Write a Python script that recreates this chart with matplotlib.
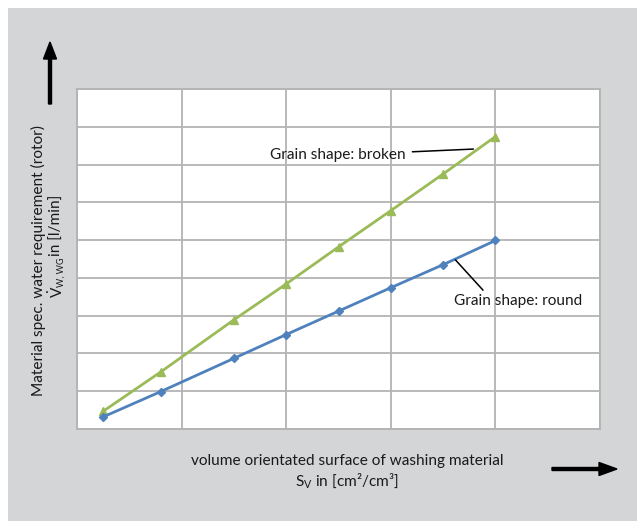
import matplotlib
matplotlib.use("Agg")
import matplotlib.pyplot as plt
from matplotlib.patches import Rectangle, FancyArrow

plt.rcParams['font.family'] = ['Lato', 'DejaVu Sans']
plt.rcParams['mathtext.fontset'] = 'custom'
plt.rcParams['mathtext.rm'] = 'Lato'
plt.rcParams['mathtext.it'] = 'Lato:italic'
plt.rcParams['mathtext.bf'] = 'Lato:bold'

# data (in grid units, axes have no numeric labels)
x_vals = [0.25, 0.8, 1.5, 2.0, 2.5, 3.0, 3.5, 4.0]
broken = [0.47, 1.51, 2.89, 3.84, 4.82, 5.78, 6.75, 7.74]
round_ = [0.32, 0.99, 1.87, 2.50, 3.12, 3.74, 4.35, 4.99]
label_broken = "Grain shape: broken"
label_round = "Grain shape: round"
xlabel1 = "volume orientated surface of washing material"
xlabel2 = r"S$_\mathrm{V}$ in [cm²/cm³]"
ylabel1 = "Material spec. water requirement (rotor)"
ylabel2_sym = r"$\dot{\mathrm{V}}$"
ylabel2_sub = "W, WG"
ylabel2_rest = "in [l/min]"

W, H = 637, 521
FS = 11.1
TC = '#1a1a1a'
fig = plt.figure(figsize=(W / 100, H / 100), dpi=100)
fig.patch.set_facecolor('white')
bg = Rectangle((8 / W, 0), 1, 1 - 8 / H, transform=fig.transFigure,
               facecolor='#d4d5d7', edgecolor='none', zorder=-10)
fig.patches.append(bg)

ax = fig.add_axes([77 / W, 1 - 429 / H, (600 - 77) / W, (429 - 89) / H])
ax.set_zorder(1)
ax.set_facecolor('white')
ax.set_xlim(0, 5)
ax.set_ylim(0, 9)
ax.set_xticks(range(0, 6))
ax.set_yticks(range(0, 10))
ax.tick_params(length=0, labelbottom=False, labelleft=False)
ax.grid(True, color='#b3b3b3', linewidth=1.3)
ax.set_axisbelow(True)
for s in ax.spines.values():
    s.set_color('#b3b3b3')
    s.set_linewidth(1.3)

ax.plot(x_vals, broken, color='#9bbb59', lw=2, marker='^', ms=6, zorder=3)
ax.plot(x_vals, round_, color='#4f81bd', lw=2, marker='D', ms=4.5, zorder=3)

ax.annotate(label_broken, xy=(3.79, 7.41), xytext=(3.14, 7.25),
            ha='right', va='center', fontsize=FS, color=TC,
            arrowprops=dict(arrowstyle='-', color='black', lw=1.1,
                            shrinkA=3, shrinkB=0))
ax.text(3.60, 3.39, label_round, ha='left', va='center', fontsize=FS, color=TC)
ax.plot([3.62, 3.88], [4.47, 3.68], color='black', lw=1.1, zorder=4)

fig.text(347 / W, 1 - 461 / H, xlabel1, ha='center', va='center', fontsize=FS, color=TC)
fig.text(347 / W, 1 - 481 / H, xlabel2, ha='center', va='center', fontsize=FS, color=TC)
fig.text(38 / W, 1 - 260 / H, ylabel1, ha='center', va='center', rotation=90, fontsize=FS, color=TC)
fig.text(57 / W, 1 - 298 / H, ylabel2_sym, ha='center', va='bottom', rotation=90, fontsize=FS, color=TC)
fig.text(61 / W, 1 - 287 / H, ylabel2_sub, ha='center', va='bottom', rotation=90, fontsize=6.5, color=TC)
fig.text(57 / W, 1 - 256 / H, ylabel2_rest, ha='center', va='bottom', rotation=90, fontsize=FS, color=TC)

# arrows
fig.patches.append(FancyArrow(50 / W, 1 - 104 / H, 0, (104 - 42) / H, width=3 / W,
                              head_width=13 / W, head_length=17 / H, length_includes_head=True,
                              transform=fig.transFigure, color='black', zorder=5))
fig.patches.append(FancyArrow(552 / W, 1 - 469 / H, (617 - 552) / W, 0, width=3 / H,
                              head_width=13 / H, head_length=18 / W, length_includes_head=True,
                              transform=fig.transFigure, color='black', zorder=5))

fig.savefig('out.png', dpi=100)
